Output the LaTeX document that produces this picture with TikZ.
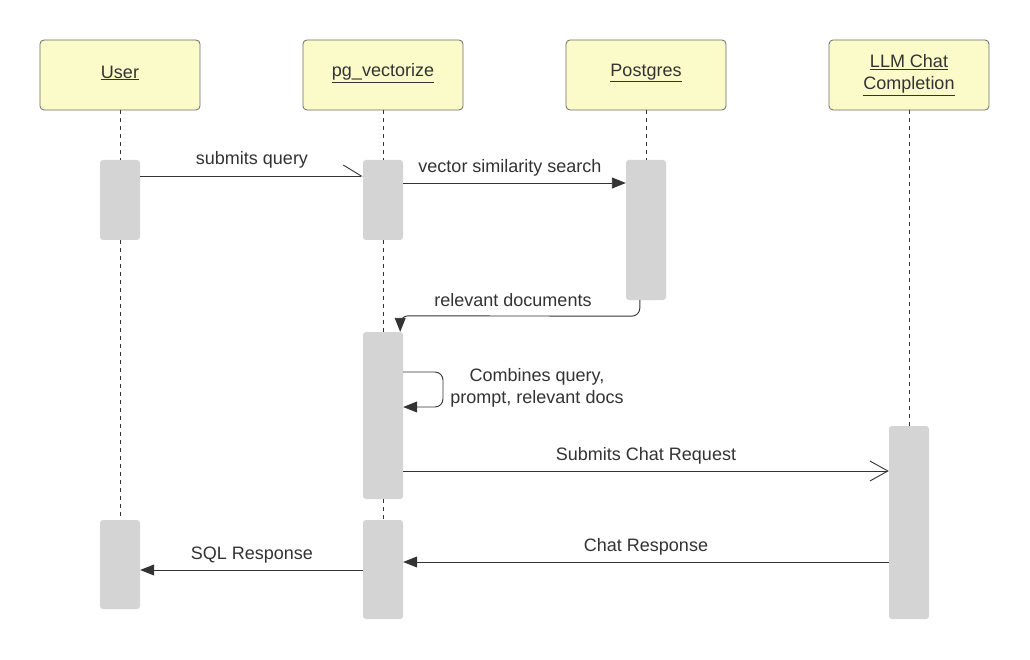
\documentclass[tikz,border=0pt]{standalone}
\usepackage{fontspec}
\setmainfont{Liberation Sans}
\usetikzlibrary{arrows.meta,calc}
\definecolor{hdrfill}{HTML}{FBFBC9}
\definecolor{hdrdraw}{HTML}{6B6B6B}
\definecolor{barfill}{HTML}{D4D4D4}
\definecolor{ink}{HTML}{333333}
\begin{document}
\begin{tikzpicture}[x=1pt,y=-1pt,
 header/.style={draw=hdrdraw, fill=hdrfill, rounded corners=4, minimum width=160, minimum height=70, inner sep=0, align=center, font=\fontsize{18}{22}\selectfont, text=ink, line width=0.8},
 hdrtext/.style={inner sep=0, align=center, font=\fontsize{18}{22}\selectfont, text=ink},
 actbar/.style={fill=barfill, rounded corners=3, minimum width=40, inner sep=0, draw=none},
 lifeline/.style={draw=ink, dash pattern=on 4 off 4, line width=0.7},
 msg/.style={draw=ink, line width=0.9},
 lbl/.style={font=\fontsize{18}{22}\selectfont, text=ink, inner sep=0, align=center},
 solidtip/.style={-{Triangle[length=14,width=11]}},
 opentip/.style={-{Straight Barb[length=18,width=20,line width=0.9]}},
 halftip/.style={-{Straight Barb[length=18,width=22,line width=0.9,left]}},
]
\useasboundingbox (0,0) rectangle (1030,660);
\fill[white] (0,0) rectangle (1030,660);

% headers
\node[header] (uh) at (120,75) {};
\node[header] (ph) at (383,75) {};
\node[header] (gh) at (646,75) {};
\node[header] (lh) at (909,75) {};
\node[hdrtext] (uht) at (120,73) {\underline{User}};
\node[hdrtext] (pht) at (383,73) {\underline{pg\_vectorize}};
\node[hdrtext] (ght) at (646,73) {\underline{Postgres}};
\node[hdrtext] (lht) at (909,75) {\underline{LLM Chat}\\\underline{Completion}};

% activation bars
\node[actbar, minimum height=80] (u1) at (120,200) {};
\node[actbar, minimum height=89] (u2) at (120,564.5) {};
\node[actbar, minimum height=80] (p1) at (383,200) {};
\node[actbar, minimum height=167] (p2) at (383,415.5) {};
\node[actbar, minimum height=99] (p3) at (383,569.5) {};
\node[actbar, minimum height=140] (g1) at (646,230) {};
\node[actbar, minimum height=193] (l1) at (909,522.5) {};

% lifelines
\draw[lifeline] (uh.south) -- (u1.north);
\draw[lifeline] (u1.south) -- (u2.north);
\draw[lifeline] (ph.south) -- (p1.north);
\draw[lifeline] (p1.south) -- (p2.north);
\draw[lifeline] (p2.south) -- (p3.north);
\draw[lifeline] (gh.south) -- (g1.north);
\draw[lifeline] (lh.south) -- (l1.north);

% messages
\draw[msg, halftip] (u1.east |- 0,176) -- (p1.west |- 0,176);
\node[lbl] (t1) at (252,160) {submits query};

\draw[msg, solidtip] (p1.east |- 0,183) -- (g1.west |- 0,183);
\node[lbl] (t2) at (510,168) {vector similarity search};

\draw[msg, solidtip] ($(g1.south west)+(14,0)$) [rounded corners=8] -- ($(g1.south west)+(14,16)$) -- ($(p2.north east)+(-3,-16)$) [sharp corners] -- ($(p2.north east)+(-3,0)$);
\node[lbl] (t3) at (513,300) {relevant documents};

\draw[msg, solidtip] (p2.east |- 0,372) [rounded corners=8] -- (443,372) -- (443,407) -- (p2.east |- 0,407);
\node[lbl] (t4) at (537,388) {Combines query,\\prompt, relevant docs};

\draw[msg, opentip] (p2.east |- 0,471) -- (l1.west |- 0,471);
\node[lbl] (t5) at (646,456) {Submits Chat Request};

\draw[msg, solidtip] (l1.west |- 0,562) -- (p3.east |- 0,562);
\node[lbl] (t6) at (646,547) {Chat Response};

\draw[msg, solidtip] (p3.west |- 0,570) -- (u2.east |- 0,570);
\node[lbl] (t7) at (252,555) {SQL Response};
\end{tikzpicture}
\end{document}
